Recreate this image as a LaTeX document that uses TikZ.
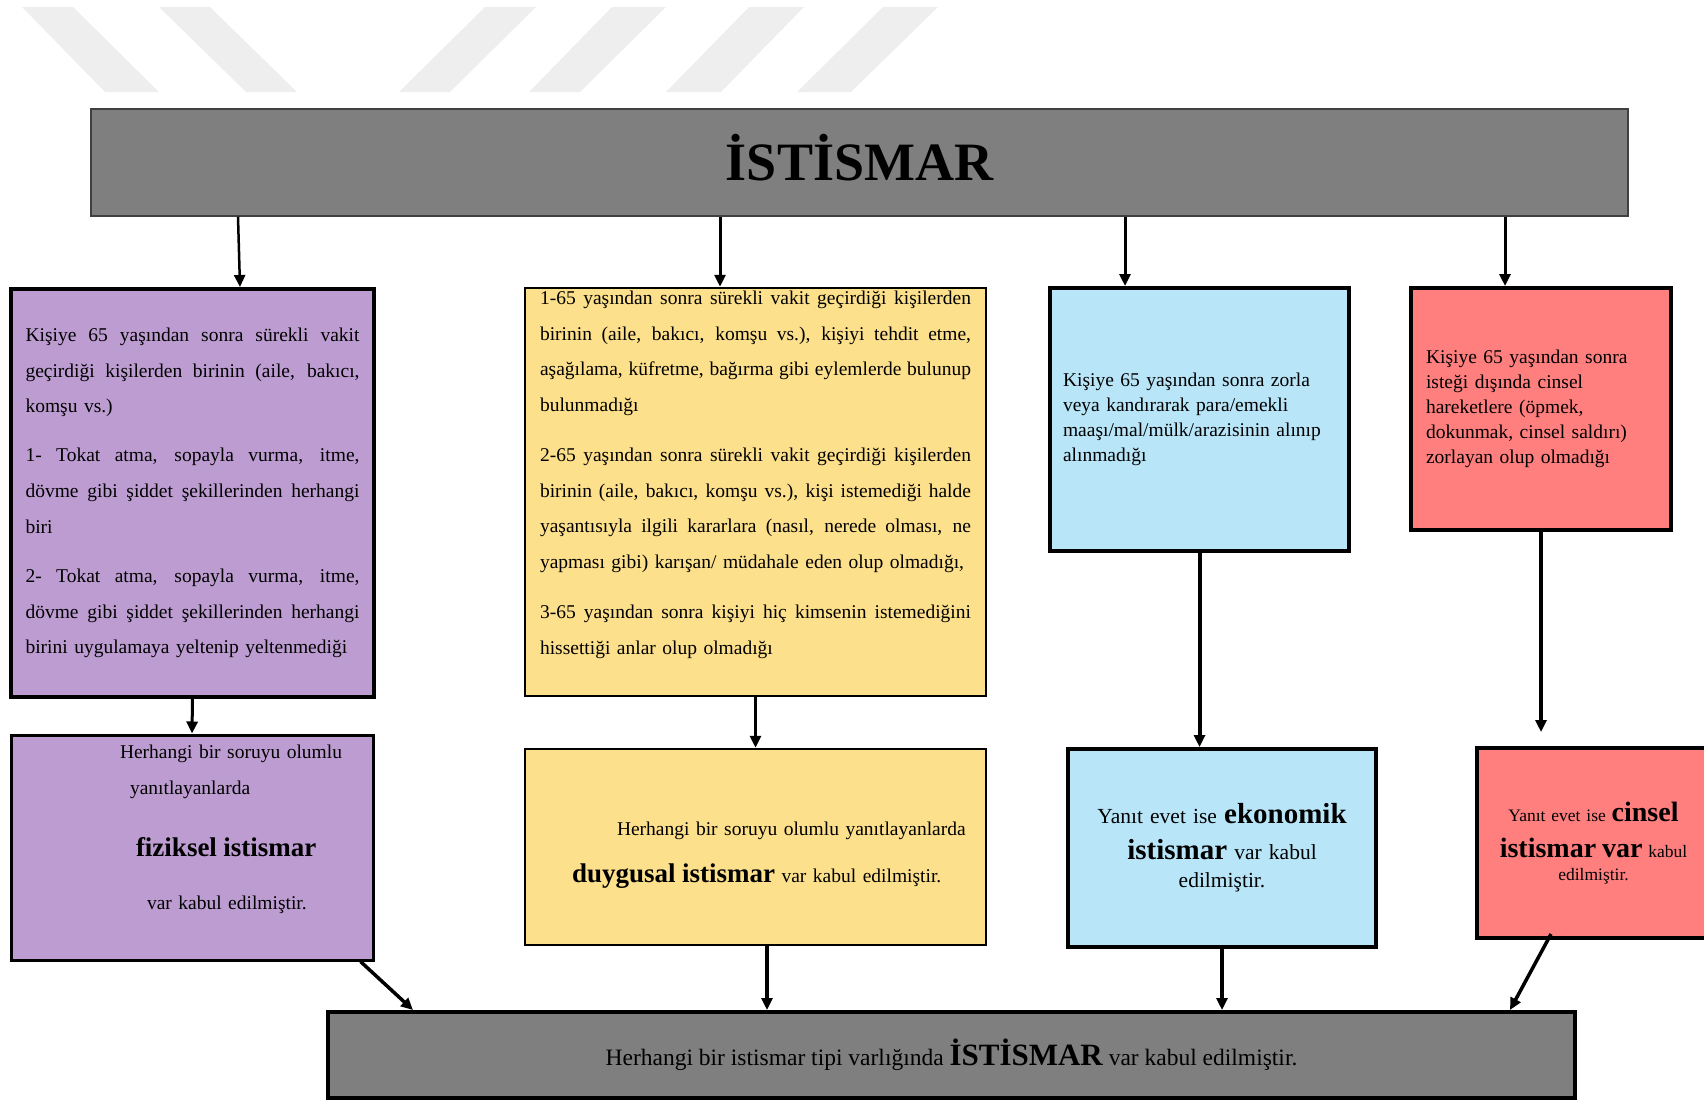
\documentclass[tikz,border=0pt]{standalone}
\usepackage{fontspec}
\setmainfont{Liberation Serif}
\usetikzlibrary{arrows.meta}
\definecolor{gri}{RGB}{127,127,127}
\definecolor{mor}{RGB}{189,157,209}
\definecolor{sari}{RGB}{253,224,139}
\definecolor{mavi}{RGB}{184,230,248}
\definecolor{kirmizi}{RGB}{255,127,127}
\definecolor{filigran}{RGB}{238,238,238}
\newcommand\fullline[1]{\makebox[\hsize][s]{\spaceskip=0pt\relax #1}}
\newcommand\kalin[2]{{\fontsize{#1}{#1}\selectfont\bfseries #2}}
\begin{document}
\begin{tikzpicture}
[x=1pt,y=-1pt,
 kutu/.style={shape=rectangle,draw=black,inner sep=0pt,line width=4pt},
 ok/.style={-{Triangle[length=12pt,width=11pt]},line width=3pt}]
\useasboundingbox (0,0) rectangle (1704,1100);
\fill [filigran] (22,7) -- (73,7) -- (159,92) -- (105,92) -- cycle;
\fill [filigran] (159,7) -- (210,7) -- (297,92) -- (246,92) -- cycle;
\fill [filigran] (485,7) -- (536,7) -- (450,92) -- (399,92) -- cycle;
\fill [filigran] (612,7) -- (666,7) -- (580,92) -- (529,92) -- cycle;
\fill [filigran] (749,7) -- (804,7) -- (721,92) -- (666,92) -- cycle;
\fill [filigran] (883,7) -- (938,7) -- (851,92) -- (797,92) -- cycle;
\path (859.5,162.5) node (ust) [kutu,fill=gri,draw=black!75,line width=1.5pt,minimum width=1537pt,minimum height=107pt,text depth=10pt,font=\fontsize{54}{54}\selectfont\bfseries] {İSTİSMAR}
(192.5,493) node (fizik) [kutu,fill=mor,minimum width=363pt,minimum height=408pt,text width=334pt,align=left,font=\fontsize{19.5}{35.7}\selectfont]
{\fullline{Kişiye 65 yaşından sonra sürekli vakit}\\
\fullline{geçirdiği kişilerden birinin (aile, bakıcı,}\\
komşu vs.)\\[13.5pt]
\fullline{1- Tokat atma, sopayla vurma, itme,}\\
\fullline{dövme gibi şiddet şekillerinden herhangi}\\
biri\\[13.5pt]
\fullline{2- Tokat atma, sopayla vurma, itme,}\\
\fullline{dövme gibi şiddet şekillerinden herhangi}\\
birini uygulamaya yeltenip yeltenmediği}
(755.5,492) node (duygu) [kutu,fill=sari,line width=2.5pt,minimum width=461pt,minimum height=408pt,text width=431pt,align=left,font=\fontsize{19.5}{35.5}\selectfont]
{\fullline{1-65 yaşından sonra sürekli vakit geçirdiği kişilerden}\\
\fullline{birinin (aile, bakıcı, komşu vs.), kişiyi tehdit etme,}\\
\fullline{aşağılama, küfretme, bağırma gibi eylemlerde bulunup}\\
bulunmadığı\\[15pt]
\fullline{2-65 yaşından sonra sürekli vakit geçirdiği kişilerden}\\
\fullline{birinin (aile, bakıcı, komşu vs.), kişi istemediği halde}\\
\fullline{yaşantısıyla ilgili kararlara (nasıl, nerede olması, ne}\\
yapması gibi) karışan/ müdahale eden olup olmadığı,\\[15pt]
\fullline{3-65 yaşından sonra kişiyi hiç kimsenin istemediğini}\\
hissettiği anlar olup olmadığı\rule[-39pt]{0pt}{0pt}}
(1199.5,419.5) node (ekonomi) [kutu,fill=mavi,minimum width=299pt,minimum height=263pt,text width=273pt,align=left,font=\fontsize{19.5}{25}\selectfont]
{Kişiye 65 yaşından sonra zorla\\
veya kandırarak para/emekli\\
maaşı/mal/mülk/arazisinin alınıp\\
alınmadığı}
(1541,409) node (cinsel) [kutu,fill=kirmizi,minimum width=260pt,minimum height=242pt,text width=230pt,align=left,font=\fontsize{19.5}{25}\selectfont]
{Kişiye 65 yaşından sonra\\
isteği dışında cinsel\\
hareketlere (öpmek,\\
dokunmak, cinsel saldırı)\\
zorlayan olup olmadığı}
(192,847.5) node (fizikson) [kutu,fill=mor,line width=3pt,minimum width=362pt,minimum height=225pt,text width=340pt,align=left,font=\fontsize{19.5}{36}\selectfont]
{\hspace*{98pt}Herhangi bir soruyu olumlu\\
\hspace*{108pt}yanıtlayanlarda\\[25.4pt]
\hspace*{114pt}\kalin{27}{fiziksel istismar}\\[17.6pt]
\hspace*{125pt}var kabul edilmiştir.\rule[-40pt]{0pt}{0pt}}
(755.5,847) node (duyguson) [kutu,fill=sari,line width=2.5pt,minimum width=461pt,minimum height=196pt,text width=440pt,align=left,font=\fontsize{19.5}{36}\selectfont]
{\rule{0pt}{30pt}\hspace*{81.5pt}Herhangi bir soruyu olumlu yanıtlayanlarda\\[11pt]
\hspace*{36.5pt}\kalin{27}{duygusal istismar} var kabul edilmiştir.}
(1222,848) node (ekonomison) [kutu,fill=mavi,minimum width=308pt,minimum height=198pt,text width=290pt,align=center,font=\fontsize{21.5}{28}\selectfont]
{Yanıt evet ise \kalin{29}{ekonomik}\\[8pt]
\kalin{29}{istismar} var kabul\\
edilmiştir.}
(1593.5,843) node (cinselson) [kutu,fill=kirmizi,minimum width=233pt,minimum height=190pt,text width=230pt,align=center,font=\fontsize{17.5}{23.5}\selectfont]
{Yanıt evet ise \kalin{28}{cinsel}\\[12.5pt]
\kalin{28}{istismar var} kabul\\
edilmiştir.}
(951.5,1055) node (alt) [kutu,fill=gri,minimum width=1247pt,minimum height=86pt,font=\fontsize{23.5}{28}\selectfont]
{Herhangi bir istismar tipi varlığında \kalin{31}{İSTİSMAR} var kabul edilmiştir.};
\draw [ok,line width=2.5pt] ([xshift=-621.5pt]ust.south) -- ([xshift=47.5pt]fizik.north);
\draw [ok] ([xshift=-139.5pt]ust.south) -- ([xshift=-35.5pt]duygu.north);
\draw [ok] ([xshift=265.5pt]ust.south) -- ([xshift=-74.5pt]ekonomi.north);
\draw [ok] ([xshift=645.5pt]ust.south) -- ([xshift=-36pt]cinsel.north);
\draw [ok] (fizik.south) -- (fizikson.north);
\draw [ok] (duygu.south) -- (duyguson.north);
\draw [ok,line width=4pt] (ekonomi.south) -- (ekonomi.south |- ekonomison.north);
\draw [ok,line width=4pt,shorten >=14pt] (cinsel.south) -- (cinsel.south |- cinselson.north);
\draw [ok,line width=3.5pt] ([xshift=-14pt]fizikson.south east) -- ([xshift=87pt]alt.north west);
\draw [ok,line width=3.5pt] ([xshift=11.5pt]duyguson.south) -- ([xshift=-184.5pt]alt.north);
\draw [ok,line width=3.5pt] (ekonomison.south) -- (ekonomison.south |- alt.north);
\draw [ok,line width=3.5pt] ([xshift=-42.5pt,yshift=6pt]cinselson.south) -- ([xshift=-67pt]alt.north east);
\end{tikzpicture}
\end{document}
